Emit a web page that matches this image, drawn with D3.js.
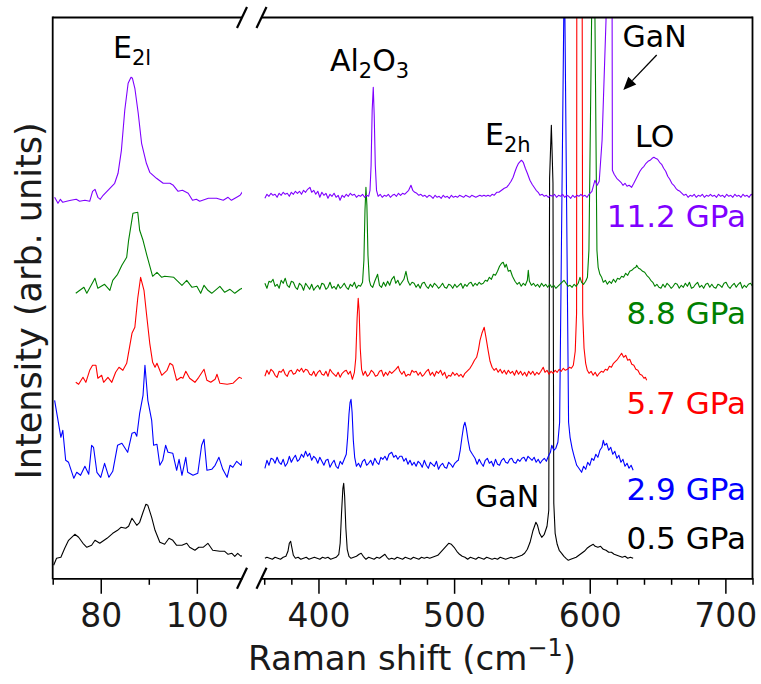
<!DOCTYPE html>
<html>
<head>
<meta charset="utf-8">
<script src="https://cdn.jsdelivr.net/npm/d3@7"></script>
<style>
  body { margin: 0; background: #fff; }
  svg { display: block; font-family: "DejaVu Sans", sans-serif; }
</style>
</head>
<body>
<svg id="chart" width="761" height="684"></svg>
<script>
// Pressure series, bottom to top, with the vertical offset used to stack them
const pressures = ["0.5 GPa", "2.9 GPa", "5.7 GPa", "8.8 GPa", "11.2 GPa"];
const offsets = [20, 116, 205, 293, 383];
const seriesColors = ["#000000", "#0000ff", "#ff0000", "#008000", "#7f00ff"];

// Low-frequency window (E2 low mode), [Raman shift cm-1, intensity]
const low05 = [[70.2,-7],[70.8,0],[71.7,1],[72.5,10],[73.3,18],[74.6,24],[75.4,21],[76.3,15],[77.1,11],[78.1,13],[78.8,18],[79.8,15],[81.3,20],[82.5,25],[83.5,28],[84.2,31],[85.2,30],[85.8,32],[86.5,40],[87.5,33],[88.1,36],[88.8,46],[89.4,54],[89.8,53],[90.6,41],[91.3,28],[92.3,16],[93.3,14],[94.2,20],[95.0,18],[95.8,13],[96.9,13],[97.9,15],[98.5,11],[99.6,8],[100.4,11],[101.3,11],[102.3,15],[103.3,8],[104.8,7],[105.8,7],[106.5,4],[107.3,5],[107.9,2],[108.5,5],[109.2,2],[109.8,4]];
const low29 = [[70.4,62],[71.0,45],[71.7,25],[72.1,32],[72.7,2],[73.3,0],[74.4,-16],[75.0,-10],[75.8,-13],[76.7,-4],[77.5,-12],[78.1,17],[78.5,15],[79.2,-10],[80.0,-15],[80.8,-1],[81.7,-15],[82.5,-9],[83.5,17],[84.4,19],[85.6,10],[86.5,29],[87.1,30],[87.5,26],[88.1,49],[88.8,67],[89.2,97],[89.8,62],[90.6,42],[91.0,17],[91.7,18],[92.3,-3],[92.9,2],[93.5,17],[94.0,10],[95.0,9],[95.8,-8],[96.3,3],[96.9,-13],[97.7,5],[98.1,-10],[99.2,-13],[100.2,-11],[101.0,17],[101.5,23],[102.1,-8],[103.1,-7],[103.8,-3],[104.6,5],[105.4,-7],[106.3,-15],[106.9,-3],[107.5,-5],[108.3,1],[109.2,-3],[109.8,9]];
const low57 = [[74.8,-9],[75.4,-11],[76.3,-4],[76.9,-9],[77.7,3],[78.3,8],[79.0,8],[79.4,-5],[80.2,-2],[80.6,-9],[81.5,-4],[82.3,-9],[83.1,1],[83.8,6],[84.6,3],[85.4,10],[86.5,40],[87.1,46],[87.7,75],[88.3,96],[89.0,83],[89.6,56],[90.2,30],[90.8,11],[91.3,6],[91.7,10],[92.7,-2],[93.8,3],[94.4,10],[95.0,8],[95.8,-7],[96.7,-4],[97.1,-5],[97.7,2],[98.5,-5],[99.6,-9],[100.4,-4],[101.5,4],[102.1,-7],[102.9,-9],[103.8,-6],[104.2,-1],[104.8,-10],[106.3,-11],[107.5,-10],[108.8,-4],[109.8,-6]];
const low88 = [[74.8,-8],[76.5,-2],[77.1,-8],[78.8,7],[79.4,-3],[80.8,1],[81.9,-5],[82.5,5],[83.5,11],[84.4,20],[85.4,28],[85.8,45],[86.7,72],[87.7,73],[88.1,55],[88.8,45],[89.6,30],[90.8,9],[91.7,13],[92.7,8],[93.3,9],[95.2,8],[96.9,0],[97.9,5],[99.0,-2],[100.0,-1],[100.8,-8],[101.5,0],[102.3,-5],[103.1,-8],[104.8,-1],[105.8,-7],[106.9,-4],[107.9,-8],[109.0,-4],[109.8,-2]];
const low112 = [[70.4,-2],[71.1,-8],[71.6,-4],[72.1,-7],[72.9,-6],[73.8,-5],[74.9,-4],[75.6,-6],[76.7,-5],[77.7,-6],[78.3,4],[78.8,6],[79.4,-2],[79.9,-4],[80.5,0],[81.9,7],[82.9,12],[83.6,22],[84.3,45],[85.0,85],[85.7,112],[86.3,118],[86.6,117],[87.1,107],[87.8,82],[88.5,52],[89.5,32],[90.2,23],[91.6,17],[93.0,12],[94.4,12],[95.1,10],[96.1,4],[97.0,5],[98.2,2],[99.1,-5],[99.9,-4],[100.6,-6],[102.4,-3],[104.1,-3],[105.5,-5],[106.5,-2],[107.2,-5],[108.3,-2],[109.0,0],[110.0,7]];

// High-frequency window (sapphire, E2 high, GaN TO and LO), [Raman shift cm-1, intensity]
const high05 = [[360.5,0],[362,1],[364,0],[366,-1],[368,1],[370,0],[372,-1],[374,1],[376,2],[377.5,7],[378.5,15],[379.5,17],[380.5,10],[381.5,3],[383,0],[385,1],[387,-1],[389,0],[391,1],[393,-1],[395,0],[397,1],[399,0],[401,-1],[403,1],[405,0],[407,1],[409,-1],[411,0],[413,1],[415,4],[416,15],[417,45],[418,70],[418.6,75],[419.3,62],[420.2,30],[421.2,9],[422.5,2],[424,0],[426,1],[428,2],[430,4],[431.5,5],[433,2],[435,-1],[437,1],[439,0],[441,-1],[443,1],[445,0],[447,2],[449,4],[450.5,1],[452,-1],[454,0],[456,-1],[458,1],[460,0],[462,-1],[464,1],[466,0],[468,-1],[470,1],[472,0],[474,-1],[476,1],[478,0],[480,1],[482,0],[484,1],[486,2],[488,3],[490,6],[492,9],[494,12],[496,15],[498,14],[500,11],[502,7],[504,4],[506,2],[508,1],[510,-1],[512,1],[514,0],[516,-1],[518,1],[520,0],[522,-1],[524,1],[526,0],[528,-1],[530,0],[532,-1],[534,1],[536,0],[538,-1],[540,0],[542,1],[544,0],[546,1],[548,2],[550,3],[552,5],[554,9],[556,16],[558,27],[560.3,36],[561.5,33],[563,25],[564.6,21],[566.5,24],[568.5,32],[569.8,48],[570.4,380],[571.7,433],[572.9,375],[573.5,55],[574.5,25],[576,14],[577.5,8],[579.3,5],[581,2],[582.5,0],[584.2,-2],[586,-1],[588,0],[590,1],[592,3],[594,5],[596,7],[598,10],[600,12],[602.6,14],[604,12],[606,11],[608,12],[610,9],[612,8],[614,6],[616,6],[618,4],[620,3],[622,2],[624,1],[626,2],[628,0],[630,1],[632,0]];
const high29 = [[360.5,-6],[362,2],[363.5,-3],[365,4],[366.5,3],[368,-1],[369.5,5],[371,0],[372.5,-2],[374,3],[375.5,-4],[377,-1],[378.5,6],[380,0],[381.5,4],[383,7],[384.5,1],[386,3],[387.5,8],[389,5],[390.5,11],[392,6],[393.5,9],[395,2],[396.5,6],[398,4],[399.5,-1],[401,5],[402.5,1],[404,-3],[405.5,2],[407,3],[408.5,-5],[410,-1],[411.5,2],[413,-4],[414.5,-6],[416,1],[417.5,-2],[419,3],[420.5,8],[421.5,25],[422.5,48],[423.3,60],[424,63],[424.8,50],[425.7,22],[426.7,5],[428,-4],[429.5,-1],[431,-5],[432.5,1],[434,3],[435.5,-3],[437,-1],[438.5,2],[440,-3],[441.5,4],[443,0],[444.5,-2],[446,5],[447.5,3],[449,6],[450.5,2],[452,8],[454,10],[455.5,5],[457,7],[458.5,3],[460,6],[461.5,6],[463,1],[464.5,4],[466,-2],[467.5,2],[469,-3],[470.5,0],[472,-4],[473.5,1],[475,-1],[476.5,-5],[478,2],[479.5,-3],[481,-6],[482.5,0],[484,-2],[485.5,-4],[487,1],[488.5,-7],[490,-3],[491.5,-1],[493,-5],[494.5,-6],[496,0],[497.5,-2],[499,-5],[500.5,-1],[502,1],[503.1,2],[504.5,12],[505.8,25],[507,36],[508,40],[509,34],[510.3,22],[511.7,12],[513.5,8],[515.4,4],[517,-2],[518.5,3],[520,-1],[521.5,-4],[523,2],[524.5,4],[526,-1],[527.5,1],[529,-4],[530.5,3],[532,-2],[533.5,-3],[535,2],[536.5,4],[538,0],[539.5,-1],[541,3],[542.5,4],[544,0],[545.5,-1],[547,3],[548.5,1],[550,4],[551.5,5],[553,1],[554.5,6],[556,4],[557.5,2],[559,5],[560.5,0],[562,3],[563.5,-1],[565,2],[566.5,4],[568,1],[569.5,6],[571,10],[572,17],[573.5,12],[575,14],[576.5,20],[577.8,40],[581.3,505],[584.4,40],[585.5,25],[587,14],[588.5,6],[590.4,-3],[592,-6],[594,-10],[595.5,-4],[597,-7],[598.5,0],[600,-3],[601.5,4],[603,2],[604.5,8],[606,5],[607.5,12],[609,15],[610,22],[611,17],[612.5,19],[614,12],[615.5,15],[617,8],[618.5,11],[620,4],[621.5,7],[623,0],[624.5,3],[626,-4],[627.5,-1],[629,-6],[630.5,-3],[632,-8]];
const high57 = [[360.5,-3],[362,3],[363.5,-1],[365,4],[366.5,2],[368,-2],[369.5,-4],[371,2],[372.5,1],[374,4],[375.5,-1],[377,-3],[378.5,2],[380,3],[381.5,-1],[383,0],[384.5,4],[386,2],[387.5,5],[389,1],[390.5,4],[392,3],[393.5,-1],[395,-2],[396.5,2],[398,-3],[399.5,1],[401,3],[402.5,-1],[404,-2],[405.5,2],[407,-3],[408.5,4],[410,1],[411.5,-1],[413,-3],[414.5,1],[416,-4],[417.5,0],[419,2],[420.5,3],[422,-1],[423.5,2],[425,-6],[426.5,1],[427.5,15],[428.5,55],[429.3,75],[430,62],[430.8,25],[431.8,4],[433,-2],[434.5,2],[436,-3],[437.5,-1],[439,3],[440.5,1],[442,-3],[443.5,-2],[445,2],[446.5,3],[448,-3],[449.5,1],[451,-2],[452.5,2],[454,0],[455.5,2],[457,4],[458.8,7],[460,2],[461.5,-1],[463,2],[464.5,-3],[466,-1],[467.5,-2],[469,3],[470.5,1],[472,2],[473.5,-2],[475,1],[476.5,-3],[478,-1],[479.5,2],[481,4],[482.5,-2],[484,1],[485.5,-3],[487,2],[488.5,0],[490,3],[491.5,-2],[493,1],[494.5,-5],[496,-2],[497.5,-3],[499,1],[500.5,-2],[502,0],[503.5,-3],[505,-1],[506.5,-4],[508,0],[509.5,2],[511.7,5],[513.5,9],[515,13],[516.6,16],[518,24],[519.1,33],[520.5,40],[522.2,46],[523.5,36],[525.2,22],[526.5,12],[528,6],[529.5,3],[531,5],[532.5,1],[534,4],[535.5,0],[537,3],[538.5,-1],[540,3],[541.5,0],[543,2],[544.5,-2],[546,3],[547.5,-1],[549,2],[550.5,-2],[552,1],[553.5,-3],[555,2],[556.5,-1],[558,2],[559.5,-2],[561,1],[562.5,-1],[564,2],[565.7,6],[567,1],[568.5,3],[570,-1],[571.5,2],[573,0],[574.5,3],[576,1],[577.5,4],[579,2],[580.5,5],[582,3],[583.5,4],[585,6],[586.5,5],[587.9,8],[589.3,22],[590.3,60],[590.6,650],[592.4,900],[594.1,650],[594.8,60],[595.8,25],[597,10],[598.2,3],[599.5,0],[601,2],[602.5,-2],[604,1],[605.5,-3],[607,0],[608.5,2],[610,1],[611.5,4],[613,3],[614.5,7],[616,6],[617.5,10],[619,12],[620.5,14],[622,17],[623.5,20],[625,16],[626.5,18],[628,13],[629.5,14],[631,9],[632.5,8],[634,4],[635.5,3],[637,-1],[638.5,-2],[640,-5],[641,-4],[642,-7]];
const high88 = [[360.5,2],[362,-3],[363.5,4],[365,3],[366.5,6],[368,-1],[369.5,1],[371,-3],[372.5,5],[374,2],[375.5,7],[377,0],[378.5,-2],[380,4],[381.5,3],[383,-2],[384.5,-4],[386,2],[387.5,0],[389,-5],[390.5,2],[392,-1],[393.5,-4],[395,1],[396.5,-5],[398,-2],[399.5,0],[401,-4],[402.5,2],[404,1],[405.5,-4],[407,-2],[408.5,3],[410,-3],[411.5,-1],[413,-4],[414.5,1],[416,-3],[417.5,-1],[419,2],[420.5,-2],[422,-4],[423.5,1],[425,-1],[426.5,3],[428,-3],[429.5,0],[431,-1],[432.5,3],[433.5,25],[434.3,75],[435,98],[435.7,80],[436.5,30],[437.5,5],[438.5,0],[440,-2],[441.5,4],[443.6,11],[445,0],[446.5,-2],[448,3],[449.5,-1],[451,4],[452.5,0],[454,6],[455.7,9],[457,2],[458.5,5],[460,0],[461.5,3],[463,6],[464.5,14],[466,4],[467.5,0],[469,3],[470.5,2],[472,-2],[473.5,1],[475,-3],[476.5,2],[478,3],[479.5,-1],[481,-3],[482.5,1],[484,-2],[485.5,2],[487,0],[488.5,-3],[490,-1],[491.5,2],[493,-2],[494.5,-3],[496,1],[497.5,0],[499,-3],[500.5,1],[502,-2],[503.5,0],[505,2],[506.5,-3],[508,1],[509.5,-1],[511,2],[512.5,3],[514,-1],[515.5,2],[517,0],[518.5,3],[520,1],[521.5,2],[523,5],[524.5,4],[526,8],[527.5,6],[529,11],[530.5,10],[532,14],[533.5,19],[535,22],[536.2,23],[537.5,18],[538.5,21],[540,14],[541.5,15],[543,9],[544.9,4],[546.5,1],[548,3],[549.5,-1],[551,2],[552.5,0],[554,5],[554.7,15],[555.5,4],[557,0],[558.5,2],[560,-1],[561.5,1],[563,-2],[564.5,2],[566,-1],[567.5,1],[569,-2],[570.5,1],[572,-2],[573.5,0],[575,-3],[576.5,-1],[578,1],[579.5,3],[581,5],[582.5,2],[584,-1],[585.5,0],[587,-2],[588.5,1],[590,-1],[591.5,2],[592.8,8],[594,3],[595.5,1],[597,4],[598.3,8],[599.4,35],[602.8,433],[605.3,35],[606.2,18],[607.5,11],[608.8,8],[610,3],[611.5,5],[613,1],[614.5,4],[616,2],[617.5,6],[619,3],[620.5,7],[622,6],[623.5,9],[625,8],[626.5,12],[628,10],[629.5,14],[631,15],[632.5,17],[634,18],[634.6,20],[636,17],[637.5,16],[639,14],[640.5,13],[642,10],[643.5,8],[645,5],[646.5,3],[648,-1],[649.5,1],[651,-2],[652.5,-3],[654,1],[655.5,-2],[657,2],[658.5,0],[660,-3],[661.5,-1],[663,2],[664.5,1],[666,-3],[667.5,0],[669,-2],[670.5,2],[672,-1],[673.5,3],[675,-3],[676.5,-2],[678,1],[679.5,3],[681,-2],[682.5,0],[684,-3],[685.5,1],[687,2],[688.5,-2],[690,1],[691.5,-2],[693,-3],[694.5,1],[696,0],[697.5,-2],[699,2],[700.5,3],[702,-1],[703.5,-3],[705,0],[706.5,2],[708,-2],[709.5,1],[711,3],[712.5,-3],[714,0],[715.5,-2],[717,1],[718.5,2],[720,-1]];
const high112 = [[360.5,-3],[362,1],[363.5,-1],[365,2],[366.5,0],[368,1],[369.5,-2],[371,2],[372.5,0],[374,3],[375.5,1],[377,2],[378.5,-1],[380,3],[381.5,1],[383,4],[384.5,2],[386,4],[387.5,1],[389,5],[390.5,3],[392,6],[393.7,8],[395,3],[396.5,5],[398,1],[399.5,4],[401,-2],[402.5,3],[404,0],[405.5,2],[407,-3],[408.5,1],[410,-1],[411.5,2],[413,-2],[414.5,0],[415.9,-5],[417.5,0],[419,-2],[420.5,1],[422,-1],[423.5,2],[425,0],[426.5,1],[428,-2],[429.5,0],[431,-1],[432.5,1],[434,-2],[435.5,0],[437,-1],[438,5],[438.8,30],[439.6,85],[440.4,108],[441.1,80],[441.9,30],[442.8,5],[444,-1],[445.5,1],[447,-2],[448.5,0],[450,-1],[451.5,1],[453,-2],[454.5,0],[456,1],[457.5,-1],[459,2],[460.5,0],[462,2],[463.5,1],[465,3],[466.5,5],[468.2,10],[469.5,5],[471,3],[472.5,2],[474,0],[475.5,1],[477,-1],[478.5,0],[480,-2],[481.5,0],[483,-1],[484.5,-3],[486,0],[487.5,-2],[489,-1],[490.5,-3],[492,0],[493.5,-2],[495,-1],[496.5,-3],[498,0],[499.5,-2],[501,-1],[502.5,-2],[504,0],[505.5,-1],[507,-2],[508.5,0],[510,-1],[511.5,-2],[513,0],[514.5,-1],[516,-2],[517.5,-1],[519,0],[520.5,-1],[522,0],[523.5,-1],[525,0],[526.5,-1],[528,1],[529.5,0],[531.4,3],[533,3],[535,5],[537,7],[538.7,8],[540.5,11],[542,14],[543.5,18],[545,24],[546.1,28],[547.5,32],[548.8,34],[549.8,35],[551,33],[552.5,27],[554,22],[555.9,15],[557.5,11],[559,8],[560.5,5],[562,3],[563.3,0],[565,1],[566.5,-1],[568,0],[569.5,-2],[571,0],[572.5,-1],[574,1],[575.5,-2],[577,0],[578.5,-1],[580,1],[581.5,-2],[583,0],[584.5,-1],[586,-3],[587.5,0],[589,-2],[590.5,0],[592,-1],[593.5,1],[595,-1],[596.5,0],[598,-2],[599.5,1],[601.6,4],[603.8,15],[605.5,10],[607,14],[609.1,55],[612,175],[613.5,420],[615.5,470],[616.5,180],[616.7,25],[618,21],[619.9,17],[621.5,15],[623,13],[624.5,10],[626,12],[627.5,9],[629,10],[630.9,8],[632.5,12],[634,16],[635.5,20],[637,24],[638.5,27],[640,29],[641.5,32],[643,34],[644.5,35],[646,37],[647.3,38],[648.5,37],[650,36],[651.5,33],[653,31],[654.5,27],[656,24],[657.5,19],[659,16],[660.5,12],[662,10],[663.5,7],[665,5],[666.5,4],[668,2],[669.5,0],[671,1],[672.5,-2],[674,0],[675.5,-1],[677,1],[678.5,-2],[680,0],[681.5,-1],[683,1],[684.5,-2],[686,0],[687.5,-1],[689,1],[690.5,-1],[692,0],[693.5,-2],[695,1],[696.5,-1],[698,0],[699.5,-2],[701,1],[702.5,-1],[704,0],[705.5,-2],[707,1],[708.5,-1],[710,0],[711.5,-2],[713,1],[714.5,-1],[716,0],[717.5,-2],[719,1],[720,0]];

const lowSpectra = [low05, low29, low57, low88, low112];
const highSpectra = [high05, high29, high57, high88, high112];

// Tick values for the two x windows
const lowMajorTicks = [80, 100];
const lowMinorTicks = [70, 90];
const highMajorTicks = [400, 500, 600, 700];
const highMinorTicks = [360, 380, 420, 440, 460, 480, 520, 540, 560, 580, 620, 640, 660, 680, 720];

// ---- layout ----
const svg = d3.select("#chart");
const plotTop = 17.5, plotBottom = 578.3;
const xLow = d3.scaleLinear().domain([70, 109.4]).range([52.7, 242]);
const xHigh = d3.scaleLinear().domain([358, 720]).range([261.5, 752.5]);
const y = d3.scaleLinear().domain([0, plotBottom - plotTop]).range([plotBottom, plotTop]);

const defs = svg.append("defs");
function addClip(id, xs) {
  defs.append("clipPath").attr("id", id).append("rect")
    .attr("x", xs.range()[0]).attr("y", plotTop)
    .attr("width", xs.range()[1] - xs.range()[0]).attr("height", plotBottom - plotTop);
}
addClip("clip-low", xLow);
addClip("clip-high", xHigh);

function drawSpectra(list, xs, clipId) {
  const g = svg.append("g").attr("clip-path", `url(#${clipId})`);
  list.forEach((data, i) => {
    const line = d3.line().x(d => xs(d[0])).y(d => y(d[1] + offsets[i]));
    g.append("path").datum(data)
      .attr("d", line)
      .attr("fill", "none")
      .attr("stroke", seriesColors[i])
      .attr("stroke-width", 1.1)
      .attr("stroke-linejoin", "round");
  });
}
drawSpectra(lowSpectra, xLow, "clip-low");
drawSpectra(highSpectra, xHigh, "clip-high");

// ---- axes ----
const spine = 1.8;
function drawAxis(xs, major, minor) {
  const gMin = svg.append("g").attr("transform", `translate(0,${plotBottom})`)
    .call(d3.axisBottom(xs).tickValues(minor).tickSize(6.5).tickFormat(""));
  gMin.select(".domain").remove();
  gMin.selectAll(".tick line").attr("stroke", "#000").attr("stroke-width", 1.5);

  const gMaj = svg.append("g").attr("transform", `translate(0,${plotBottom})`)
    .call(d3.axisBottom(xs).tickValues(major).tickSize(15.5).tickSizeOuter(0).tickPadding(10).tickFormat(d3.format("d")));
  gMaj.select(".domain").attr("stroke", "#000").attr("stroke-width", spine);
  gMaj.selectAll(".tick line").attr("stroke", "#000").attr("stroke-width", 1.5);
  gMaj.selectAll(".tick text")
    .attr("fill", "#1a1a1a")
    .style("font-family", "'DejaVu Sans', sans-serif")
    .style("font-size", "33px");

  // top spine of this window
  svg.append("line")
    .attr("x1", xs.range()[0]).attr("x2", xs.range()[1])
    .attr("y1", plotTop).attr("y2", plotTop)
    .attr("stroke", "#000").attr("stroke-width", spine);
}
drawAxis(xLow, lowMajorTicks, lowMinorTicks);
drawAxis(xHigh, highMajorTicks, highMinorTicks);

// left and right spines
svg.append("line").attr("x1", xLow.range()[0]).attr("x2", xLow.range()[0])
  .attr("y1", plotTop - spine / 2).attr("y2", plotBottom + spine / 2)
  .attr("stroke", "#000").attr("stroke-width", spine);
svg.append("line").attr("x1", xHigh.range()[1]).attr("x2", xHigh.range()[1])
  .attr("y1", plotTop - spine / 2).attr("y2", plotBottom + spine / 2)
  .attr("stroke", "#000").attr("stroke-width", spine);

// break marks where the two windows meet
[xLow.range()[1], xHigh.range()[0]].forEach(cx => {
  [plotTop, plotBottom].forEach(cy => {
    svg.append("line")
      .attr("x1", cx - 5).attr("y1", cy + 10.5)
      .attr("x2", cx + 5).attr("y2", cy - 10.5)
      .attr("stroke", "#000").attr("stroke-width", 2.2);
  });
});

// ---- axis titles ----
const xTitle = svg.append("text")
  .attr("x", 412).attr("y", 670)
  .attr("text-anchor", "middle")
  .attr("fill", "#1a1a1a")
  .style("font-size", "34px");
xTitle.append("tspan").text("Raman shift (cm");
xTitle.append("tspan").attr("dy", -14).style("font-size", "24px").text("\u22121");
xTitle.append("tspan").attr("dy", 14).text(")");

svg.append("text")
  .attr("transform", "translate(41,301) rotate(-90)")
  .attr("text-anchor", "middle")
  .attr("fill", "#1a1a1a")
  .style("font-size", "35px")
  .text("Intensity (arb. units)");

// ---- pressure labels ----
const labelBaselines = [548.5, 500, 413.5, 323.5, 227];
pressures.forEach((p, i) => {
  svg.append("text")
    .attr("x", 746).attr("y", labelBaselines[i])
    .attr("text-anchor", "end")
    .attr("fill", seriesColors[i])
    .style("font-size", "31px")
    .text(p);
});

// ---- peak annotations ----
function peakLabel(x, yBase, parts) {
  const t = svg.append("text").attr("x", x).attr("y", yBase)
    .attr("fill", "#000").style("font-size", "30px");
  let shifted = false;
  parts.forEach(([txt, sub]) => {
    const s = t.append("tspan").text(txt);
    if (sub && !shifted) { s.attr("dy", 7).style("font-size", "21px"); shifted = true; }
    else if (!sub && shifted) { s.attr("dy", -7); shifted = false; }
  });
}
peakLabel(113, 58, [["E", false], ["2l", true]]);
peakLabel(330, 71, [["Al", false], ["2", true], ["O", false], ["3", true]]);
peakLabel(485, 145, [["E", false], ["2h", true]]);
peakLabel(635, 146.5, [["LO", false]]);
peakLabel(622.5, 46.5, [["GaN", false]]);
peakLabel(475, 507, [["GaN", false]]);

// arrow from the upper GaN label to the 11.2 GPa GaN peak
const arrowStart = [656.7, 55], arrowTip = [623.3, 90];
const dx = arrowTip[0] - arrowStart[0], dy = arrowTip[1] - arrowStart[1];
const len = Math.hypot(dx, dy), ux = dx / len, uy = dy / len;
const headLen = 13, headHalf = 5.5;
const bx = arrowTip[0] - ux * headLen, by = arrowTip[1] - uy * headLen;
svg.append("line")
  .attr("x1", arrowStart[0]).attr("y1", arrowStart[1])
  .attr("x2", bx).attr("y2", by)
  .attr("stroke", "#000").attr("stroke-width", 1.3);
svg.append("path")
  .attr("d", `M${arrowTip[0]},${arrowTip[1]}L${bx - uy * headHalf},${by + ux * headHalf}L${bx + uy * headHalf},${by - ux * headHalf}Z`)
  .attr("fill", "#000");
</script>
</body>
</html>
